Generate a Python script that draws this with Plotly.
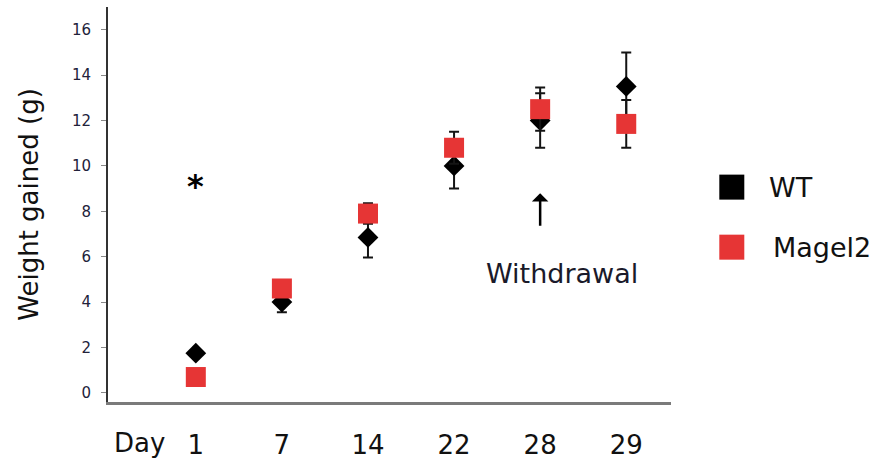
import plotly.graph_objects as go

# Weight gained per study day, mean ± error
days = ["1", "7", "14", "22", "28", "29"]
wt_mean = [1.75, 4.0, 6.85, 10.0, 12.0, 13.5]
wt_err = [0.1, 0.45, 0.88, 1.0, 1.2, 1.5]
magel2_mean = [0.7, 4.6, 7.9, 10.8, 12.5, 11.85]
magel2_err = [0.1, 0.3, 0.45, 0.7, 0.95, 1.05]

y_ticks = [0, 2, 4, 6, 8, 10, 12, 14, 16]

FONT = "DejaVu Sans"
RED = "#E63535"
INK = "#141414"

fig = go.Figure()

fig.add_trace(go.Scatter(
    x=days, y=wt_mean, mode="markers", name="WT",
    marker=dict(symbol="diamond", size=16, color="#000000"),
    error_y=dict(type="data", array=wt_err, visible=True,
                 color=INK, thickness=2, width=5),
))
fig.add_trace(go.Scatter(
    x=days, y=magel2_mean, mode="markers", name="Magel2",
    marker=dict(symbol="square", size=20, color=RED),
    error_y=dict(type="data", array=magel2_err, visible=True,
                 color=INK, thickness=2, width=5),
))

# category positions on the x axis
day_pos = {d: i for i, d in enumerate(days)}

# significance marker on day 1
fig.add_annotation(x=day_pos["1"], y=9.45, text="<b>*</b>", showarrow=False,
                   font=dict(family=FONT, size=32, color="#000"),
                   yshift=-8)

# withdrawal arrow and label at day 28
fig.add_annotation(x=day_pos["28"], y=8.8, ax=0, ay=34, text="",
                   showarrow=True, arrowhead=1, arrowsize=1.1,
                   arrowwidth=2.5, arrowcolor="#000")
fig.add_annotation(x=4.25, y=5.28, text="Withdrawal", showarrow=False,
                   font=dict(family=FONT, size=27, color="#1a1a2a"))

# "Day" label in front of the day ticks
fig.add_annotation(x=-0.65, y=0, yref="paper", yanchor="middle",
                   yshift=-41, text="Day", showarrow=False,
                   font=dict(family=FONT, size=26, color="#111"))

# legend: coloured squares with labels to the right of the plot
legend_items = [("WT", "#000000", 0.544, 1.170), ("Magel2", RED, 0.392, 1.177)]
for label, color, ypos, xtext in legend_items:
    fig.add_shape(type="rect", xref="paper", yref="paper",
                  xsizemode="pixel", ysizemode="pixel",
                  xanchor=1.108, yanchor=ypos,
                  x0=-12.5, x1=12.5, y0=-12.5, y1=12.5,
                  fillcolor=color, line=dict(width=0))
    fig.add_annotation(x=xtext, y=ypos, xref="paper", yref="paper",
                       xanchor="left", text=label, showarrow=False,
                       font=dict(family=FONT, size=27, color="#111"))

fig.update_layout(
    width=874, height=461,
    margin=dict(l=108, r=203, t=7, b=59),
    paper_bgcolor="white", plot_bgcolor="white",
    showlegend=False,
    font=dict(family=FONT),
)
fig.update_xaxes(
    type="category", range=[-1.02, 5.52], automargin=False,
    showgrid=False, zeroline=False,
    showline=True, linecolor="#7a7a7a", linewidth=3,
    ticks="", tickfont=dict(family=FONT, size=26, color="#111"),
    ticklabelstandoff=18,
)
fig.update_yaxes(
    range=[-0.4, 17.0], tickvals=y_ticks, automargin=False,
    showgrid=False, zeroline=False,
    showline=True, linecolor="#333333", linewidth=2,
    ticks="outside", ticklen=5, tickcolor="#888", tickwidth=1,
    tickfont=dict(family=FONT, size=15, color="#22223a"),
    ticklabelstandoff=7,
    title=dict(text="Weight gained (g)", standoff=26,
               font=dict(family=FONT, size=26, color="#111")),
)

fig.write_html("out.html")
